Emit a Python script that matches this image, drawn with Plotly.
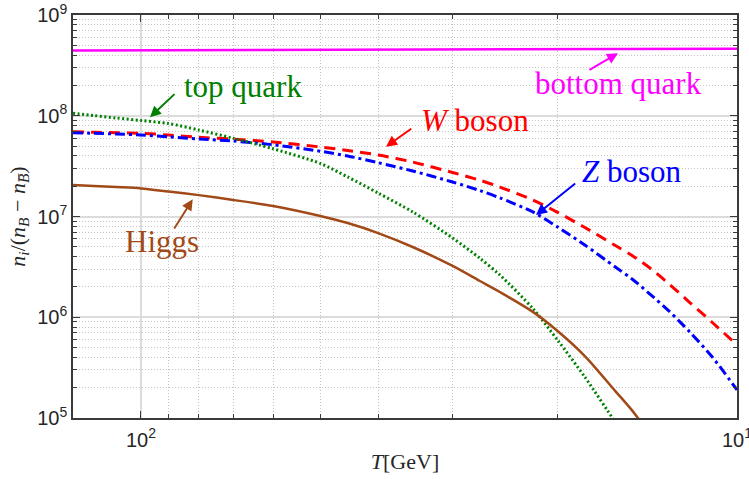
import numpy as np
import plotly.graph_objects as go

# ---- data ----
T = [130, 120, 110, 100, 90, 80, 70, 60, 50, 45, 40, 35, 30, 27, 25, 22, 20, 18, 16, 15, 14, 13, 12, 11, 10]

w_boson = [6.95e7, 6.86e7, 6.78e7, 6.70e7, 6.44e7, 6.11e7, 5.86e7, 5.50e7, 4.90e7, 4.52e7, 4.08e7,
           3.47e7, 2.73e7, 2.29e7, 1.96e7, 1.46e7, 1.10e7, 7.78e6, 5.15e6, 4.10e6, 3.08e6, 2.14e6,
           1.40e6, 8.87e5, 5.31e5]

z_boson = [6.79e7, 6.70e7, 6.59e7, 6.44e7, 6.18e7, 5.88e7, 5.61e7, 5.15e7, 4.44e7, 3.99e7, 3.42e7,
           2.83e7, 2.20e7, 1.81e7, 1.53e7, 1.11e7, 7.87e6, 5.21e6, 3.15e6, 2.40e6, 1.70e6, 1.15e6,
           7.14e5, 4.03e5, 1.90e5]

T_top = T[:20]
top_quark = [1.06e8, 1.006e8, 9.5e7, 8.97e7, 8.38e7, 7.22e7, 5.98e7, 4.70e7, 3.36e7, 2.47e7, 1.71e7,
             1.11e7, 6.12e6, 3.85e6, 2.63e6, 1.22e6, 5.94e5, 2.55e5, 9.1e4, 5.3e4]

T_higgs = T[:21]
higgs = [2.06e7, 2.01e7, 1.96e7, 1.90e7, 1.77e7, 1.63e7, 1.46e7, 1.27e7, 1.01e7, 8.61e6, 6.85e6,
         4.98e6, 3.23e6, 2.29e6, 1.78e6, 1.13e6, 7.31e5, 4.12e5, 1.85e5, 1.19e5, 6.9e4]

T_bottom = [130, 100, 50, 20, 10]
bottom_quark = [4.43e8, 4.45e8, 4.50e8, 4.57e8, 4.63e8]

x_major = [10, 100]
x_major_text = ["10<sup>1</sup>", "10<sup>2</sup>"]
x_minor = [20, 30, 40, 50, 60, 70, 80, 90]
y_major = [1e5, 1e6, 1e7, 1e8, 1e9]
y_major_text = ["10<sup>5</sup>", "10<sup>6</sup>", "10<sup>7</sup>", "10<sup>8</sup>", "10<sup>9</sup>"]
y_minor = [k * 10.0 ** d for d in range(5, 9) for k in range(2, 10)]

# ---- styles ----
C_TOP = "#008000"
C_W = "#ff0000"
C_Z = "#0000ff"
C_H = "#a24a17"
C_B = "#ff00ff"
SERIF = "Liberation Serif, Times New Roman, serif"
SANS = "Liberation Sans, Arial, Helvetica, sans-serif"

fig = go.Figure()
fig.add_trace(go.Scatter(x=T, y=w_boson, mode="lines", name="W boson",
                         line=dict(color=C_W, width=3, dash="11px,7px", shape="spline", smoothing=0.8)))
fig.add_trace(go.Scatter(x=T, y=z_boson, mode="lines", name="Z boson",
                         line=dict(color=C_Z, width=3, dash="10px,4px,3px,4px", shape="spline", smoothing=0.8)))
fig.add_trace(go.Scatter(x=T_top, y=top_quark, mode="lines", name="top quark",
                         line=dict(color=C_TOP, width=3, dash="2px,2.5px", shape="spline", smoothing=0.8)))
fig.add_trace(go.Scatter(x=T_higgs, y=higgs, mode="lines", name="Higgs",
                         line=dict(color=C_H, width=2.5, shape="spline", smoothing=0.8)))
fig.add_trace(go.Scatter(x=T_bottom, y=bottom_quark, mode="lines", name="bottom quark",
                         line=dict(color=C_B, width=2.5)))

# plot-area geometry (pixels) for placing labels
L, R, TOP, BOT = 73, 737, 15, 418
W_, H_ = R - L, BOT - TOP
px = lambda x: (x - L) / W_
py = lambda y: (BOT - y) / H_

labels = [
    ("top quark", 243.5, 86, C_TOP),
    ("bottom quark", 618.5, 83.5, C_B),
    ("<i>W</i> boson", 474.5, 120, C_W),
    ("<i>Z</i> boson", 632, 171.5, C_Z),
    ("Higgs", 161.5, 241.5, C_H),
]
for txt, x, y, c in labels:
    fig.add_annotation(xref="paper", yref="paper", x=px(x), y=py(y), text=txt,
                       showarrow=False, xanchor="center", yanchor="middle",
                       font=dict(family=SERIF, size=31, color=c))

arrows = [  # head (x, y), tail (x, y)
    ((150, 117.3), (176, 92.7), C_TOP),
    ((618, 53.3), (588, 70.7), C_B),
    ((386, 146.7), (412.7, 127.7), C_W),
    ((536, 215), (576.7, 182.3), C_Z),
    ((192.7, 199.3), (173.3, 230), C_H),
]
for (hx, hy), (tx, ty), c in arrows:
    fig.add_annotation(xref="paper", yref="paper", x=px(hx), y=py(hy), text="",
                       showarrow=True, ax=tx - hx, ay=ty - hy, arrowcolor=c,
                       arrowhead=2, arrowsize=1.1, arrowwidth=2, standoff=0)

axis_common = dict(
    type="log", showline=True, linecolor="#3a3a3a", linewidth=1.5, mirror="allticks",
    ticks="inside", ticklen=7, tickwidth=1.2, tickcolor="#3a3a3a",
    showgrid=True, gridcolor="#dcdcdc", gridwidth=1.5, zeroline=False,
    tickfont=dict(family=SANS, size=20, color="#262626"),
    automargin=False, ticklabeloverflow="allow",
)

fig.update_xaxes(
    **axis_common,
    range=[np.log10(130), 1],
    ticklabelstandoff=3,
    tickmode="array", tickvals=x_major, ticktext=x_major_text,
    minor=dict(tickmode="array", tickvals=x_minor, ticks="inside", ticklen=4,
               tickcolor="#3a3a3a", showgrid=True, gridcolor="#c4c4c4",
               griddash="1px,2px", gridwidth=1),
    title=dict(text="<i>T</i>[GeV]", font=dict(family=SERIF, size=22, color="#262626"),
               standoff=4),
)
fig.update_yaxes(
    **axis_common,
    range=[5, 9],
    tickmode="array", tickvals=y_major, ticktext=y_major_text,
    minor=dict(tickmode="array", tickvals=y_minor, ticks="inside", ticklen=4,
               tickcolor="#3a3a3a", showgrid=True, gridcolor="#c4c4c4",
               griddash="1px,2px", gridwidth=1),
    title=dict(text="<i>n</i><sub><i>i</i></sub>/(<i>n</i><sub><i>B</i></sub> − <i>n</i><sub><i>B̅</i></sub>)",
               font=dict(family=SERIF, size=22, color="#262626"), standoff=6),
)

fig.update_layout(
    width=749, height=479,
    margin=dict(l=L, r=749 - R, t=TOP, b=479 - BOT, autoexpand=False),
    paper_bgcolor="white", plot_bgcolor="white",
    showlegend=False,
)

fig.write_html("out.html", config={"displayModeBar": False},
               post_script="document.body.style.margin='0px';")
